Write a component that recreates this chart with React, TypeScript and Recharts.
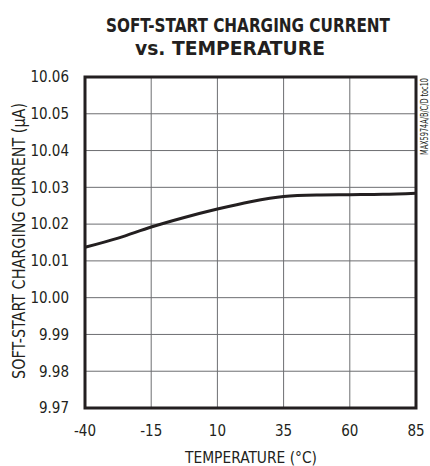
import { CartesianGrid, Line, LineChart, ReferenceArea, XAxis, YAxis } from "recharts"

const temperatures = [-40, -27.5, -15, -2.5, 10, 22.5, 35, 47.5, 60, 72.5, 85]
const chargingCurrent = [10.0137, 10.0162, 10.0192, 10.0218, 10.0241, 10.0261, 10.0275, 10.0279, 10.028, 10.0281, 10.0284]
const xTicks = [-40, -15, 10, 35, 60, 85]
const yTicks = [9.97, 9.98, 9.99, 10.0, 10.01, 10.02, 10.03, 10.04, 10.05, 10.06]

const FONT = "'DejaVu Sans Condensed', 'DejaVu Sans', sans-serif"
const INK = "#231f20"
const tickStyle = { fill: INK, fontSize: 15, fontFamily: FONT, fontStretch: "condensed" }

export default function App() {
    const data = temperatures.map((t, i) => ({ temp: t, current: chargingCurrent[i] }))
    return (
        <div style={{ position: "relative", width: 430, height: 466, background: "#fff", fontFamily: FONT, fontStretch: "condensed" }}>
            <style>{"body{margin:0}"}</style>
            <LineChart width={430} height={466} data={data} margin={{ top: 77, right: 14, bottom: 18, left: 25 }}>
                <CartesianGrid stroke="#6d6e71" strokeWidth={1} />
                <XAxis
                    dataKey="temp"
                    type="number"
                    domain={[-40, 85]}
                    ticks={xTicks}
                    height={40}
                    axisLine={false}
                    tickLine={false}
                    tickSize={0}
                    tickMargin={17}
                    tick={tickStyle}
                />
                <YAxis
                    type="number"
                    domain={[9.97, 10.06]}
                    ticks={yTicks}
                    width={60}
                    axisLine={false}
                    tickLine={false}
                    tickSize={0}
                    tickMargin={16}
                    tickFormatter={(v: number) => v.toFixed(2)}
                    tick={tickStyle}
                />
                <ReferenceArea x1={-40} x2={85} y1={9.97} y2={10.06} fill="none" stroke={INK} strokeWidth={3} ifOverflow="visible" />
                <Line
                    type="monotone"
                    dataKey="current"
                    stroke={INK}
                    strokeWidth={3}
                    dot={false}
                    isAnimationActive={false}
                />
            </LineChart>
            <svg width={430} height={466} style={{ position: "absolute", left: 0, top: 0, pointerEvents: "none", fontStretch: "condensed" }}>
                <text x={106} y={32} textLength={284} lengthAdjust="spacingAndGlyphs" fontFamily={FONT} fontWeight="bold" fontSize={20} fill={INK}>
                    SOFT-START CHARGING CURRENT
                </text>
                <text x={135} y={55} textLength={190} lengthAdjust="spacingAndGlyphs" fontFamily={FONT} fontWeight="bold" fontSize={20} fill={INK}>
                    vs. TEMPERATURE
                </text>
                <text x={185} y={463} textLength={132} lengthAdjust="spacingAndGlyphs" fontFamily={FONT} fontSize={16} fill={INK}>
                    TEMPERATURE (°C)
                </text>
                <text x={25} y={379} textLength={276} lengthAdjust="spacingAndGlyphs" transform="rotate(-90 25 379)" fontFamily={FONT} fontSize={17} fill={INK}>
                    SOFT-START CHARGING CURRENT (μA)
                </text>
                <text x={428} y={155} textLength={77} lengthAdjust="spacingAndGlyphs" transform="rotate(-90 428 155)" fontFamily={FONT} fontSize={10} fill={INK}>
                    MAX5974A/B/C/D toc10
                </text>
            </svg>
        </div>
    )
}
